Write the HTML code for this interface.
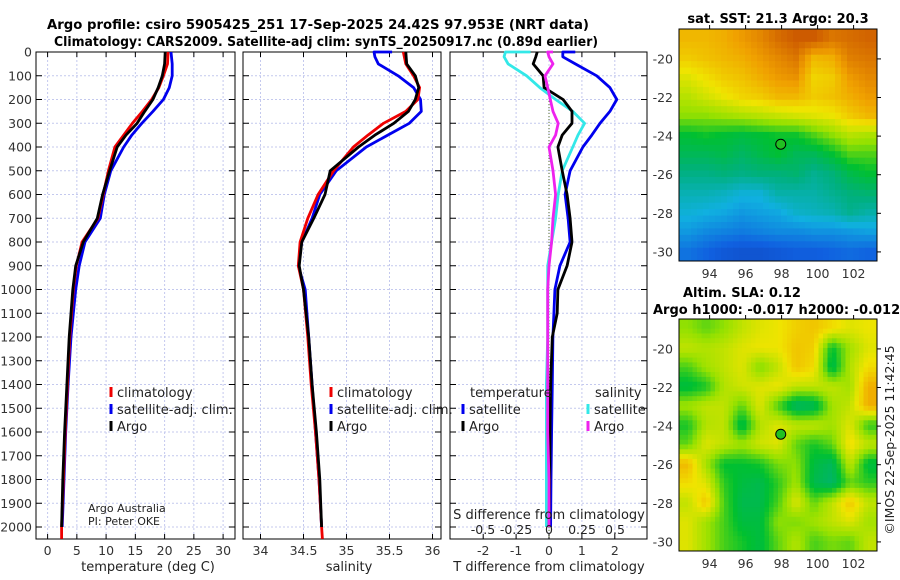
<!DOCTYPE html>
<html><head><meta charset="utf-8"><style>
body{margin:0;background:#fff}
svg{display:block;font-family:"DejaVu Sans","Liberation Sans",sans-serif}
</style></head><body>
<svg id="fig" width="900" height="580" viewBox="0 0 900 580">
<defs>
<clipPath id="clipA"><rect x="679" y="29" width="198" height="232"/></clipPath>
<clipPath id="clipB"><rect x="679" y="319" width="198" height="232"/></clipPath>
</defs>
<text x="318" y="29" font-size="13" font-weight="bold" text-anchor="middle" textLength="542" lengthAdjust="spacingAndGlyphs">Argo profile: csiro 5905425_251 17-Sep-2025 24.42S 97.953E (NRT data)</text>
<text x="326" y="46" font-size="13" font-weight="bold" text-anchor="middle" textLength="544" lengthAdjust="spacingAndGlyphs">Climatology: CARS2009. Satellite-adj clim: synTS_20250917.nc (0.89d earlier)</text>
<text x="778" y="23" font-size="13" font-weight="bold" text-anchor="middle">sat. SST: 21.3 Argo: 20.3</text>
<text x="683" y="297" font-size="13" font-weight="bold">Altim. SLA: 0.12</text>
<text x="653" y="314" font-size="13" font-weight="bold">Argo h1000: -0.017 h2000: -0.012</text>
</svg>
<script>
// ---- profile data ----
const depthT = [0,50,100,150,200,250,300,350,400,500,600,700,800,900,1000,1200,1400,1600,1800,2000,2050];
const tClim = [20.6,20.5,19.8,19.0,17.8,16.2,14.5,13.0,11.5,10.4,9.5,8.6,5.9,4.9,4.4,3.8,3.4,3.0,2.7,2.4,2.4];
const tSat  = [21.1,21.3,21.3,20.8,19.8,18.0,16.1,14.4,13.0,10.8,9.7,9.0,6.4,5.4,4.8,4.0,3.5,3.1,2.8,2.5,null];
const tArgo = [20.1,20.0,19.6,18.9,18.0,16.6,15.3,13.4,11.9,10.6,9.4,8.5,6.1,4.8,4.3,3.7,3.3,2.9,2.6,2.4,null];
const depthS = [0,50,100,150,200,250,300,350,400,500,600,700,800,900,1000,1200,1400,1600,1800,2000,2050];
const sClim = [35.66,35.69,35.78,35.85,35.83,35.69,35.43,35.25,35.08,34.85,34.67,34.55,34.46,34.44,34.50,34.55,34.59,34.64,34.68,34.71,34.72];
const sArgo = [35.69,35.70,35.80,35.84,35.80,35.72,35.55,35.33,35.14,34.81,34.75,34.62,34.48,34.45,34.50,34.56,34.60,34.65,34.69,34.71,null];
const depthSSat = [0,0,20,50,100,150,200,250,300,350,400,500,600,700,800,900,1000,1200,1400,1600,1800,2000];
const sSat  = [35.53,35.32,35.33,35.37,35.60,35.78,35.86,35.87,35.73,35.48,35.23,34.88,34.69,34.60,34.48,34.44,34.52,34.56,34.60,34.64,34.68,34.71];
const depthD = [0,0,20,50,100,150,200,250,300,350,400,500,600,700,800,900,1000,1100,1200,1400,1600,1800,2000];
const tDiffSat  = [0.8,0.42,0.42,0.8,1.45,1.85,2.06,1.85,1.55,1.3,1.03,0.64,0.49,0.58,0.64,0.33,0.18,0.15,0.12,0.1,0.08,0.06,0.05];
const tDiffArgo = [-0.36,-0.36,-0.4,-0.48,-0.18,-0.15,0.43,0.7,0.7,0.4,0.27,0.4,0.55,0.64,0.7,0.55,0.27,0.25,0.1,0.05,0.03,0.02,0.0];
const sDiffSat  = [-0.14,-0.33,-0.34,-0.31,-0.17,-0.07,0.05,0.18,0.27,0.22,0.18,0.1,0.07,0.05,0.02,-0.01,-0.01,-0.01,-0.01,-0.02,-0.02,-0.02,-0.02];
const sDiffArgo = [0.03,-0.01,0.0,0.03,-0.03,-0.01,0.01,0.03,0.07,0.05,0.0,0.03,0.05,0.03,0.02,0.0,-0.01,-0.01,-0.01,-0.01,-0.01,0.0,0.0];
const depthTicks = [0,100,200,300,400,500,600,700,800,900,1000,1100,1200,1300,1400,1500,1600,1700,1800,1900,2000];
const tTicks = [0,5,10,15,20,25,30];
const sTicks = [34,34.5,35,35.5,36];
const tdTicks = [-2,-1,0,1,2];
const sdTicks = [-0.5,-0.25,0,0.25,0.5];
// ---- map data (1-degree cells, rows north->south from -19 to -30, cols 92.8..102.8) ----
const mapLons = [92.8,93.8,94.8,95.8,96.8,97.8,98.8,99.8,100.8,101.8,102.8];
const mapLats = [-19,-20,-21,-22,-23,-24,-25,-26,-27,-28,-29,-30];
const sstGrid = [
[22.5,22.5,22.6,22.8,23.0,23.3,23.5,23.5,23.2,23.3,23.4],
[22.3,22.4,22.5,22.6,22.8,23.0,23.2,22.5,22.6,23.1,23.2],
[21.9,22.1,22.3,22.4,22.6,22.8,22.9,22.2,22.3,22.8,23.0],
[21.6,21.8,22.0,22.2,22.3,22.5,22.5,22.3,22.4,22.6,22.8],
[21.3,21.3,21.4,21.5,21.6,21.7,21.8,21.9,22.0,22.3,22.5],
[20.6,20.7,20.6,20.5,20.6,20.7,20.7,21.0,21.3,21.6,21.5],
[20.3,20.3,20.4,20.2,20.4,20.6,20.3,20.3,20.6,21.0,21.0],
[19.9,19.9,20.0,19.9,20.0,20.0,20.1,19.8,20.0,20.4,20.6],
[19.5,19.5,19.4,19.2,19.2,19.6,19.6,19.6,19.8,20.0,20.1],
[19.2,19.1,19.0,18.8,18.9,19.0,19.3,19.4,19.5,19.8,19.6],
[18.8,18.6,18.5,18.4,18.5,18.6,18.6,18.7,18.7,18.8,18.9],
[18.3,18.1,17.9,17.8,17.8,17.9,18.0,18.0,18.1,18.2,18.1]];
const slaGrid = [
[0.07,0.05,0.07,0.10,0.12,0.13,0.15,0.16,0.14,0.12,0.13],
[0.10,0.09,0.10,0.12,0.13,0.13,0.16,0.15,0.01,0.08,0.12],
[0.04,0.08,0.10,0.12,0.06,0.10,0.16,0.14,-0.01,0.09,0.14],
[0.00,0.02,0.09,0.11,0.12,0.13,0.10,0.10,0.10,0.08,0.18],
[0.08,0.10,0.10,0.05,0.12,0.04,-0.03,-0.02,0.08,0.10,0.18],
[0.02,0.09,0.10,-0.01,0.09,0.12,0.10,0.10,0.08,0.12,0.03],
[0.05,0.12,0.10,0.08,0.11,0.12,0.05,0.02,0.05,0.14,0.10],
[0.17,0.08,0.01,0.01,0.02,0.06,0.07,0.00,-0.02,0.10,0.00],
[0.14,0.12,0.03,0.00,-0.01,0.03,0.08,-0.01,-0.03,0.05,0.03],
[0.10,0.16,0.04,-0.01,-0.01,0.04,0.12,0.05,0.10,0.16,0.10],
[0.12,0.08,0.04,0.00,0.00,0.07,0.06,0.08,0.10,0.12,0.08],
[0.12,0.08,0.04,0.02,0.00,0.05,0.09,0.04,0.06,0.05,0.10]];
const argoLon = 97.953, argoLat = -24.42;
const mapLonTicks = [94,96,98,100,102];
const mapLatTicks = [-20,-22,-24,-26,-28,-30];

const NS='http://www.w3.org/2000/svg', svg=document.getElementById('fig');
function el(tag,attrs,parent){const e=document.createElementNS(NS,tag);for(const k in attrs)e.setAttribute(k,attrs[k]);(parent||svg).appendChild(e);return e;}
const Y0=52, Y1=539, yD=d=>Y0+d*0.2375;
const panels=[
 {name:'temperature-panel',x0:36,x1:235,sx:v=>47.6+v*5.85,ticks:tTicks,label:'temperature (deg C)',lx:148},
 {name:'salinity-panel',x0:243,x1:441,sx:v=>260.5+(v-34)*86,ticks:sTicks,label:'salinity',lx:349},
 {name:'difference-panel',x0:450,x1:647,sx:v=>549+v*32.9,ticks:tdTicks,label:'T difference from climatology',lx:549}];
const sxS=v=>549+v*132;
panels.forEach((p,pi)=>{
  const g=el('g',{});
  
  
  p.ticks.forEach(t=>{const l=el('line',{x1:p.sx(t),x2:p.sx(t),y1:Y0,y2:Y1,stroke:'#c4c9ee','stroke-width':1,'stroke-dasharray':'2,2'},g);
    
    const tx=el('text',{x:p.sx(t),y:555,'font-size':12.5,'text-anchor':'middle',fill:'#333'},g);tx.textContent=t;
    
    el('line',{x1:p.sx(t),x2:p.sx(t),y1:Y1,y2:Y1-5,stroke:'#000'},g);el('line',{x1:p.sx(t),x2:p.sx(t),y1:Y0,y2:Y0+5,stroke:'#000'},g);});
  depthTicks.forEach(d=>{const l=el('line',{x1:p.x0,x2:p.x1,y1:yD(d),y2:yD(d),stroke:'#c4c9ee','stroke-width':1,'stroke-dasharray':'2,2'},g);
    
    el('line',{x1:p.x0,x2:p.x0+6,y1:yD(d),y2:yD(d),stroke:'#000'},g);el('line',{x1:p.x1-6,x2:p.x1,y1:yD(d),y2:yD(d),stroke:'#000'},g);
    if(pi===0){const tx=el('text',{x:32,y:yD(d)+4.5,'font-size':12.5,'text-anchor':'end',fill:'#333'},g);tx.textContent=d;
      }});
  const fr=el('rect',{x:p.x0,y:Y0,width:p.x1-p.x0,height:Y1-Y0,fill:'none',stroke:'#000','stroke-width':1},g);
  
  const xl=el('text',{x:p.lx,y:571,'font-size':13,'text-anchor':'middle',fill:'#222'},g);xl.textContent=p.label;
  
});
function line(depths,vals,sx,color,name){
  let d='',pen=false;
  for(let i=0;i<depths.length;i++){const v=vals[i];if(v==null){pen=false;continue;}
    d+=(pen?'L':'M')+sx(v).toFixed(1)+','+yD(depths[i]).toFixed(1);pen=true;}
  const p=el('path',{d:d,fill:'none',stroke:color,'stroke-width':2.8,'stroke-linejoin':'round'});
  
  
}
const z=el('line',{x1:549,x2:549,y1:Y0+40,y2:Y1,stroke:'#556b2f','stroke-width':1,'stroke-dasharray':'1,2'});

const P=panels;
line(depthT,tSat,P[0].sx,'#0000ee','temperature-satellite-line');
line(depthT,tClim,P[0].sx,'#ee0000','temperature-climatology-line');
line(depthT,tArgo,P[0].sx,'#000','temperature-argo-line');
line(depthSSat,sSat,P[1].sx,'#0000ee','salinity-satellite-line');
line(depthS,sClim,P[1].sx,'#ee0000','salinity-climatology-line');
line(depthS,sArgo,P[1].sx,'#000','salinity-argo-line');
line(depthD,tDiffSat,P[2].sx,'#0000ee','t-diff-satellite-line');
line(depthD,sDiffSat,sxS,'#33e8e8','s-diff-satellite-line');
line(depthD,tDiffArgo,P[2].sx,'#000','t-diff-argo-line');
line(depthD,sDiffArgo,sxS,'#ee22ee','s-diff-argo-line');
const st=el('text',{x:549,y:519,'font-size':13,'text-anchor':'middle',fill:'#222'});st.textContent='S difference from climatology';

sdTicks.forEach(t=>{const tx=el('text',{x:sxS(t),y:534,'font-size':12.5,'text-anchor':'middle',fill:'#222'});tx.textContent=t;
  });
function legend(x,y,color,label,name){
  const m=el('rect',{x:x-1.5,y:y-9,width:3,height:10,fill:color});
  
  const t=el('text',{x:x+6,y:y+1,'font-size':13,fill:'#222'});t.textContent=label;
  }
[[111,'#ee0000','climatology'],[111,'#0000ee','satellite-adj. clim.'],[111,'#000','Argo']].forEach((a,i)=>legend(a[0],396+i*17,a[1],a[2],'legend-entry'));
[[331,'#ee0000','climatology'],[331,'#0000ee','satellite-adj. clim.'],[331,'#000','Argo']].forEach((a,i)=>legend(a[0],396+i*17,a[1],a[2],'legend-entry'));
legend(463,413,'#0000ee','satellite','legend-entry');legend(463,430,'#000','Argo','legend-entry');
legend(588,413,'#33e8e8','satellite','legend-entry');legend(588,430,'#ee22ee','Argo','legend-entry');
[['temperature',470],['salinity',595]].forEach(a=>{const t=el('text',{x:a[1],y:397,'font-size':13,fill:'#222'});t.textContent=a[0];
  });
[['Argo Australia',512],['PI: Peter OKE',525]].forEach(a=>{const t=el('text',{x:88,y:a[1],'font-size':11,fill:'#222'});t.textContent=a[0];
  });
// maps
const stops=[[0,[16,48,160]],[0.15,[16,96,224]],[0.3,[16,176,224]],[0.42,[0,176,128]],[0.52,[0,192,48]],[0.62,[150,225,0]],[0.72,[240,228,0]],[0.82,[240,160,0]],[0.92,[208,96,0]],[1,[176,48,0]]];
function cmap(t){t=Math.max(0,Math.min(1,t));for(let i=1;i<stops.length;i++){if(t<=stops[i][0]){const a=stops[i-1],b=stops[i],f=(t-a[0])/(b[0]-a[0]);
  return 'rgb('+a[1].map((c,k)=>Math.round(c+(b[1][k]-c)*f)).join(',')+')';}}return 'rgb(176,48,0)';}
const MX0=679,MX1=877,mx=lon=>MX0+(lon-92.3)*18.0;
function sample(grid,fr,fc){
  const R=grid.length-1,C=grid[0].length-1;
  fr=Math.max(0,Math.min(R,fr));fc=Math.max(0,Math.min(C,fc));
  const r0=Math.min(R-1,Math.floor(fr)),c0=Math.min(C-1,Math.floor(fc)),a=fr-r0,b=fc-c0;
  return grid[r0][c0]*(1-a)*(1-b)+grid[r0][c0+1]*(1-a)*b+grid[r0+1][c0]*a*(1-b)+grid[r0+1][c0+1]*a*b;
}
function drawMap(top,grid,norm,name,clip,sub){
  const my=lat=>top+(-18.45-lat)*19.3;
  const g=el('g',{});
  const cg=el('g',{'clip-path':'url(#'+clip+')'},g);
  const rows=grid.length,cols=grid[0].length;
  for(let r=0;r<rows*sub;r++)for(let c=0;c<cols*sub;c++){
    const fr=(r+0.5)/sub-0.5,fc=(c+0.5)/sub-0.5;
    const v=sample(grid,fr,fc);
    const x=mx(mapLons[0]-0.5+c/sub),y=my(mapLats[0]+0.55-r/sub);
    const rc=el('rect',{x:x.toFixed(2),y:y.toFixed(2),width:(18.0/sub+0.6).toFixed(2),height:(19.3/sub+0.6).toFixed(2),fill:cmap(norm(v))},cg);
    
    
  }
  const H=232;
  el('rect',{x:MX0,y:top,width:MX1-MX0,height:H,fill:'none',stroke:'#000'},g);
  mapLonTicks.forEach(l=>{const t=el('text',{x:mx(l),y:top+H+17,'font-size':12.5,'text-anchor':'middle',fill:'#333'},g);t.textContent=l;
    
    el('line',{x1:mx(l),x2:mx(l),y1:top,y2:top-4,stroke:'#000'},g);});
  mapLatTicks.forEach(l=>{const t=el('text',{x:673,y:my(l)+4.5,'font-size':12.5,'text-anchor':'end',fill:'#333'},g);t.textContent=l;
    
    el('line',{x1:MX1,x2:MX1+4,y1:my(l),y2:my(l),stroke:'#000'},g);});
  const c=el('circle',{cx:mx(argoLon),cy:my(argoLat),r:5,fill:'#22c022',stroke:'#000','stroke-width':1},g);
  
}
drawMap(29,sstGrid,v=>(v-17)/7,'sst-map','clipA',3);
drawMap(319,slaGrid,v=>(v+0.3)/0.6,'sla-map','clipB',4);
const ts=el('text',{transform:'translate(894,440) rotate(-90)','font-size':12.5,'text-anchor':'middle',fill:'#222'});
ts.textContent='©IMOS 22-Sep-2025 11:42:45';


</script>
</body></html>
